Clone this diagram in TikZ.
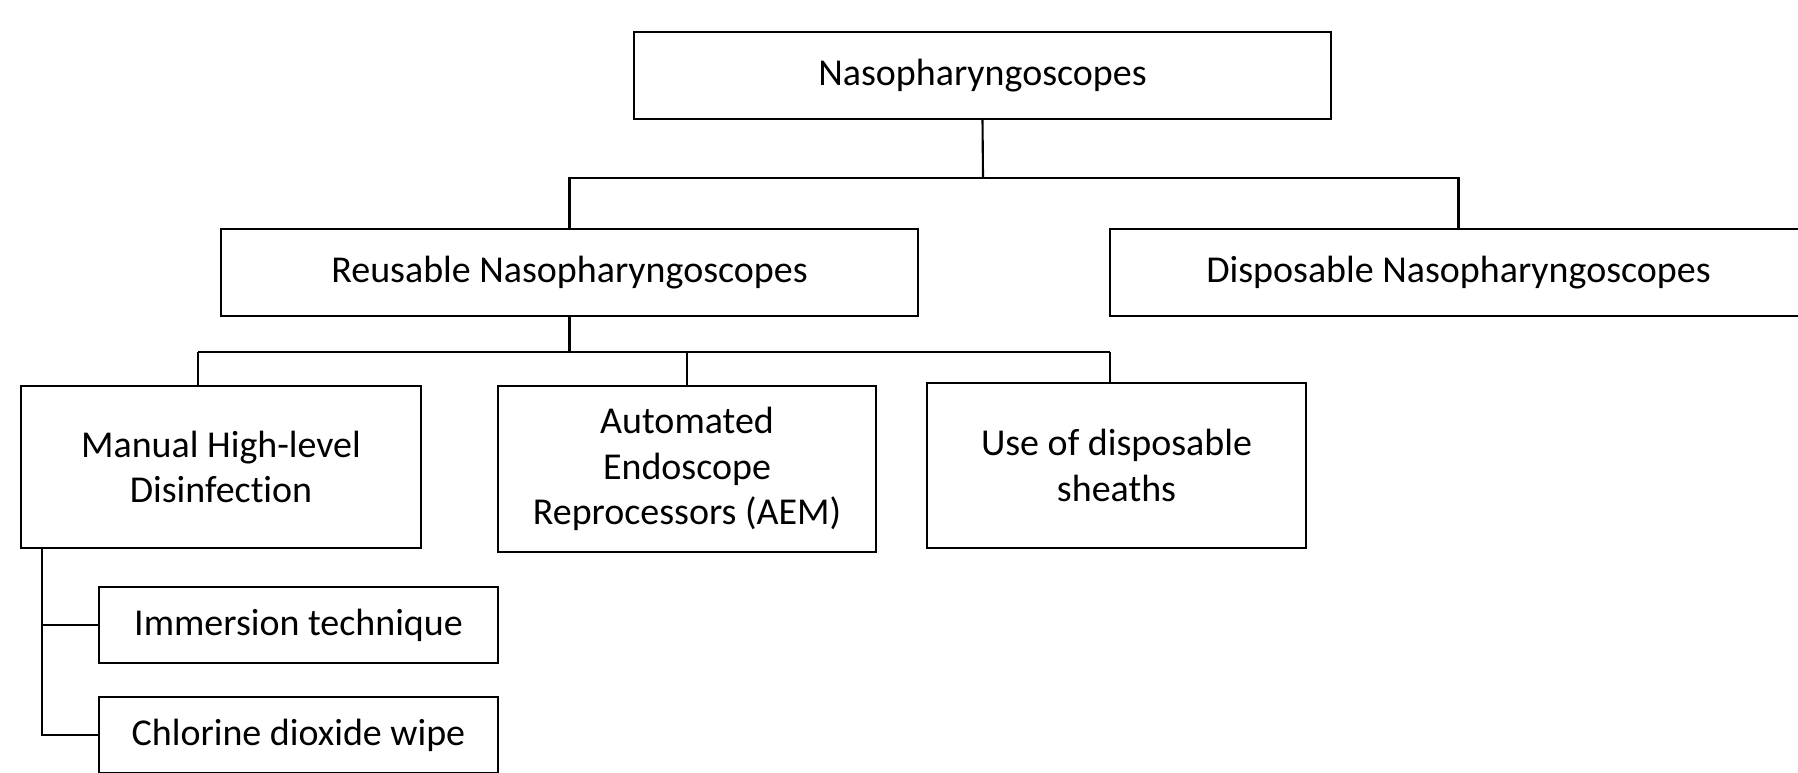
\documentclass[tikz,border=0pt]{standalone}
\usepackage{fontspec}
\setmainfont[RawFeature={-liga;-clig;-dlig;-calt}]{Carlito}
\usetikzlibrary{positioning}

\tikzset{
  box/.style={draw,line width=0.6pt,align=center,inner sep=2pt,
    font=\fontsize{10.8}{13}\selectfont},
  link/.style={line width=0.6pt}
}

\begin{document}
\begin{tikzpicture}[x=0.01cm,y=-0.01cm]
      \useasboundingbox (0,0) rectangle (1798,772);
      \clip (0,0) rectangle (1798,772);
      \node[box,minimum width=6.97cm,minimum height=0.87cm] (scopes) at (982.5,75.5) {Nasopharyngoscopes};
      \node[box,minimum width=6.97cm,minimum height=0.87cm] (reuse) at (569.5,272.5) {Reusable Nasopharyngoscopes};
      \node[box,minimum width=6.97cm,minimum height=0.87cm] (disp) at (1458.5,272.5) {Disposable Nasopharyngoscopes};
      \node[box,minimum width=4.00cm,minimum height=1.62cm] (manual) at (221,467) {Manual High-level\\Disinfection};
      \node[box,minimum width=3.78cm,minimum height=1.66cm] (aer) at (687,469) {Automated\\Endoscope\\Reprocessors (AEM)};
      \node[box,minimum width=3.79cm,minimum height=1.65cm] (sheath) at (1116.5,465.5) {Use of disposable\\sheaths};
      \node[box,minimum width=3.99cm,minimum height=0.76cm] (immersion) at (298.5,625) {Immersion technique};
      \node[box,minimum width=3.99cm,minimum height=0.76cm] (wipe) at (298.5,735) {Chlorine dioxide wipe};
      % first level
      \coordinate (top) at (983,178);
      \draw[link] (scopes.south) -- (top);
      \draw[link] (reuse.north) |- (top) -| (disp.north);
      % second level
      \coordinate (left) at (198,352);
      \coordinate (right) at (1110,352);
      \draw[link] (left) -- (right);
      \draw[link] (reuse.south) -- (reuse.south |- left);
      \draw[link] (left) -- (left |- manual.north);
      \draw[link] (aer.north) -- (aer.north |- left);
      \draw[link] (right) -- (right |- sheath.north);
      % methods of manual disinfection
      \coordinate (trunk) at (42,548);
      \draw[link] (trunk) |- (wipe.west);
      \draw[link] (trunk |- immersion.west) -- (immersion.west);
    \end{tikzpicture}
\end{document}
